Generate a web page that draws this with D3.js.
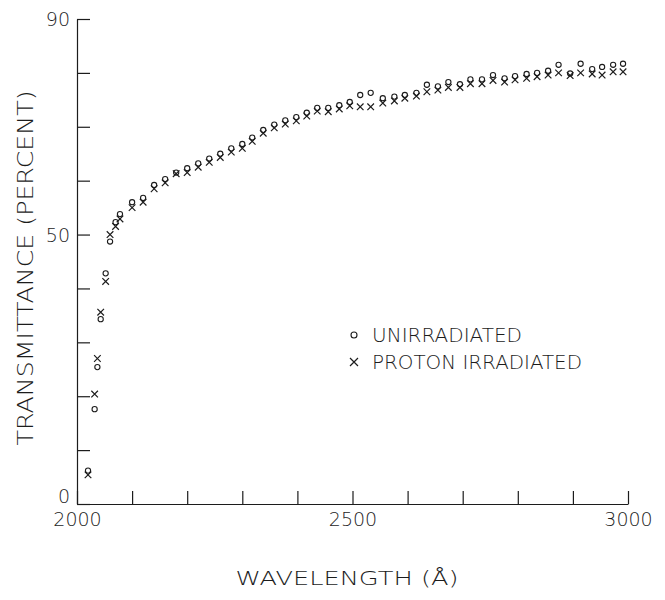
<!DOCTYPE html>
<html>
<head>
<meta charset="utf-8">
<script src="https://cdn.jsdelivr.net/npm/d3@7"></script>
<style>
  body { margin: 0; background: #fff; }
  svg { display: block; }
</style>
</head>
<body>
<svg id="chart" width="665" height="600"></svg>
<script>
// wavelength (angstrom) of each reading
const wavelengths = [2020, 2032, 2037, 2043, 2052, 2060, 2070, 2078,
  2100, 2120, 2140, 2160, 2180, 2200, 2220, 2240, 2260, 2280, 2300,
  2318, 2338, 2358, 2378, 2398, 2417, 2436, 2456, 2476, 2495, 2514, 2533,
  2555, 2576, 2595, 2616, 2635, 2655, 2674, 2695, 2714, 2735, 2755, 2776,
  2795, 2816, 2835, 2855, 2874, 2895, 2914, 2935, 2953, 2973, 2991];

// transmittance, percent
const unirradiated = [6.2, 17.6, 25.4, 34.3, 42.8, 48.7, 52.3, 53.8,
  56.0, 56.8, 59.2, 60.3, 61.5, 62.3, 63.2, 64.1, 65.0, 66.0, 66.8,
  68.0, 69.4, 70.4, 71.2, 71.8, 72.6, 73.5, 73.5, 74.0, 74.6, 75.9, 76.3,
  75.3, 75.6, 75.9, 76.3, 77.8, 77.5, 78.3, 77.9, 78.8, 78.8, 79.6, 79.0,
  79.4, 79.8, 80.0, 80.4, 81.5, 79.9, 81.7, 80.7, 81.1, 81.5, 81.7];

const protonIrradiated = [5.4, 20.4, 27.0, 35.6, 41.3, 50.0, 51.5, 52.9,
  55.0, 56.0, 58.5, 59.6, 61.3, 61.5, 62.5, 63.4, 64.3, 65.3, 66.0,
  67.3, 68.8, 69.8, 70.5, 71.1, 72.0, 72.9, 72.8, 73.3, 73.9, 73.7, 73.7,
  74.4, 74.8, 75.3, 75.7, 76.5, 76.8, 77.3, 77.3, 78.0, 78.0, 78.6, 78.3,
  78.7, 79.0, 79.3, 79.6, 80.0, 79.5, 80.0, 79.8, 79.6, 80.2, 80.2];

const yTicks = [0, 10, 20, 30, 40, 50, 60, 70, 80, 90];
const yLabels = [0, 50, 90];
const xTicks = [2000, 2100, 2200, 2300, 2400, 2500, 2600, 2700, 2800, 2900, 3000];
const xLabels = [2000, 2500, 3000];

const legendItems = ["UNIRRADIATED", "PROTON IRRADIATED"];

const ink = "#1c1c1c";
const font = "'DejaVu Sans', sans-serif";

const svg = d3.select("#chart");

const x = d3.scaleLinear().domain([2000, 3000]).range([77, 628]);
const y = d3.scaleLinear().domain([0, 90]).range([504, 19]);

// axes, ticks pointing into the plot
const yAxis = d3.axisLeft(y)
  .tickValues(yTicks)
  .tickSizeInner(-13)
  .tickSizeOuter(0)
  .tickPadding(7)
  .tickFormat(d => yLabels.includes(d) ? d : "");

const xAxis = d3.axisBottom(x)
  .tickValues(xTicks)
  .tickSizeInner(-13)
  .tickSizeOuter(0)
  .tickPadding(9)
  .tickFormat(d => xLabels.includes(d) ? d : "");

const gy = svg.append("g")
  .attr("transform", `translate(${x(2000)},0)`)
  .call(yAxis);

const gx = svg.append("g")
  .attr("transform", `translate(0,${y(0)})`)
  .call(xAxis);

[gx, gy].forEach(g => {
  g.selectAll("path, line").attr("stroke", ink).attr("stroke-width", 1.2);
  g.selectAll("text")
    .attr("fill", ink)
    .style("font-family", font)
    .style("font-weight", 200)
    .style("font-size", "19px");
});
gy.selectAll("text").attr("dy", d => d === 0 ? "-0.08em" : "0.36em");

// data points
const pts = wavelengths.map((w, i) => ({w, o: unirradiated[i], p: protonIrradiated[i]}));

svg.append("g")
  .selectAll("circle")
  .data(pts)
  .join("circle")
    .attr("cx", d => x(d.w))
    .attr("cy", d => y(d.o))
    .attr("r", 2.6)
    .attr("fill", "none")
    .attr("stroke", ink)
    .attr("stroke-width", 1.1);

const cross = (cx, cy, s) =>
  `M${cx - s},${cy - s}L${cx + s},${cy + s}M${cx + s},${cy - s}L${cx - s},${cy + s}`;

svg.append("g")
  .selectAll("path")
  .data(pts)
  .join("path")
    .attr("d", d => cross(x(d.w), y(d.p), 3.3))
    .attr("fill", "none")
    .attr("stroke", ink)
    .attr("stroke-width", 1.2);

// legend
const legend = svg.append("g").attr("transform", "translate(354,335)");

legend.append("circle")
  .attr("cx", 0).attr("cy", 0).attr("r", 3)
  .attr("fill", "none").attr("stroke", ink).attr("stroke-width", 1.1);

legend.append("path")
  .attr("d", cross(0, 27, 4))
  .attr("stroke", ink).attr("stroke-width", 1.2);

legend.selectAll("text")
  .data(legendItems)
  .join("text")
    .attr("x", 18)
    .attr("y", (d, i) => i * 27)
    .attr("dy", "0.36em")
    .attr("fill", ink)
    .style("font-family", font)
    .style("font-weight", 200)
    .style("font-size", "19px")
    .attr("textLength", (d, i) => i ? 210 : 150)
    .attr("lengthAdjust", "spacingAndGlyphs")
    .text(d => d);

// axis titles
svg.append("text")
  .attr("transform", "translate(33,268) rotate(-90)")
  .attr("text-anchor", "middle")
  .attr("fill", ink)
  .style("font-family", font)
  .style("font-weight", 200)
  .style("font-size", "22px")
  .attr("textLength", 355)
  .attr("lengthAdjust", "spacingAndGlyphs")
  .text("TRANSMITTANCE (PERCENT)");

svg.append("text")
  .attr("x", 347)
  .attr("y", 585)
  .attr("text-anchor", "middle")
  .attr("fill", ink)
  .style("font-family", font)
  .style("font-weight", 200)
  .style("font-size", "19px")
  .attr("textLength", 223)
  .attr("lengthAdjust", "spacingAndGlyphs")
  .text("WAVELENGTH (Å)");
</script>
</body>
</html>
